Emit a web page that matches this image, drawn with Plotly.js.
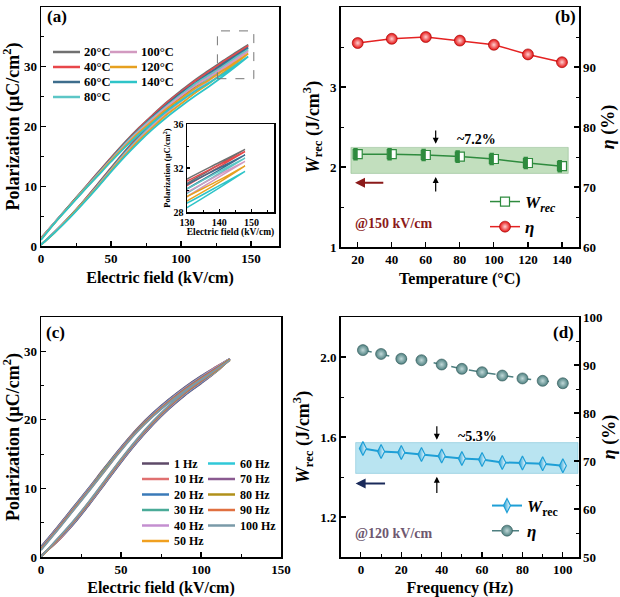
<!DOCTYPE html>
<html><head><meta charset="utf-8">
<script src="https://cdn.plot.ly/plotly-3.0.1.min.js"></script>
<style>html,body{margin:0;padding:0;background:#fff}#chart{width:620px;height:597px}</style>
</head><body><div id="chart"></div>
<script>
const SERIF = 'Liberation Serif';

// ---------- Panel (a): P-E loops vs temperature ----------
const E_a = [0, 10, 20, 30, 40, 50, 60, 70, 80, 90, 100, 110, 120, 130, 140, 148];
const tempLabels = ['20°C', '40°C', '60°C', '80°C', '100°C', '120°C', '140°C'];
const tempColors = ['#707070', '#e8474a', '#3d6d8c', '#5cc6c6', '#d29ac0', '#e6a020', '#2ec4c8'];
const P20_up  = [1.3, 4.0, 6.7, 9.4, 12.1, 14.8, 17.4, 19.8, 22.0, 24.1, 26.0, 27.8, 29.4, 31.0, 32.5, 33.7];
const P20_dn  = [0.2, 2.4, 4.8, 7.4, 10.2, 13.1, 15.9, 18.5, 20.9, 23.1, 25.1, 27.0, 28.8, 30.6, 32.3, 33.7];
const P40_up  = [1.3, 4.0, 6.7, 9.4, 12.1, 14.7, 17.3, 19.7, 21.9, 24.0, 25.8, 27.6, 29.2, 30.8, 32.3, 33.5];
const P40_dn  = [0.2, 2.4, 4.8, 7.4, 10.2, 13.0, 15.8, 18.4, 20.8, 23.0, 24.9, 26.8, 28.6, 30.4, 32.1, 33.5];
const P60_up  = [1.2, 4.0, 6.7, 9.3, 12.0, 14.6, 17.2, 19.5, 21.7, 23.7, 25.6, 27.3, 28.9, 30.5, 32.0, 33.2];
const P60_dn  = [0.2, 2.4, 4.8, 7.3, 10.1, 12.9, 15.7, 18.2, 20.6, 22.7, 24.7, 26.5, 28.3, 30.1, 31.8, 33.2];
const P80_up  = [1.2, 4.0, 6.6, 9.3, 11.9, 14.5, 17.1, 19.4, 21.5, 23.5, 25.3, 27.1, 28.6, 30.1, 31.7, 32.9];
const P80_dn  = [0.2, 2.4, 4.7, 7.3, 10.0, 12.8, 15.6, 18.1, 20.4, 22.5, 24.4, 26.3, 28.0, 29.7, 31.5, 32.9];
const P100_up = [1.2, 4.0, 6.6, 9.2, 11.8, 14.4, 16.9, 19.2, 21.3, 23.3, 25.1, 26.8, 28.3, 29.8, 31.4, 32.6];
const P100_dn = [0.2, 2.4, 4.7, 7.2, 9.9, 12.7, 15.4, 17.9, 20.2, 22.3, 24.2, 26.0, 27.7, 29.4, 31.2, 32.6];
const P120_up = [1.1, 3.9, 6.6, 9.2, 11.7, 14.3, 16.7, 19.0, 21.0, 23.0, 24.7, 26.4, 27.8, 29.4, 30.9, 32.2];
const P120_dn = [0.2, 2.3, 4.7, 7.2, 9.8, 12.6, 15.2, 17.7, 19.9, 22.0, 23.8, 25.6, 27.2, 29.0, 30.7, 32.2];
const P140_up = [1.0, 3.9, 6.5, 9.1, 11.6, 14.1, 16.5, 18.7, 20.7, 22.6, 24.3, 25.9, 27.3, 28.8, 30.4, 31.7];
const P140_dn = [0.2, 2.3, 4.6, 7.1, 9.7, 12.4, 15.0, 17.4, 19.6, 21.6, 23.4, 25.1, 26.7, 28.4, 30.2, 31.7];
const loopsA = [[P20_dn, P20_up], [P40_dn, P40_up], [P60_dn, P60_up], [P80_dn, P80_up],
                [P100_dn, P100_up], [P120_dn, P120_up], [P140_dn, P140_up]];

// ---------- Panel (b): Wrec and eta vs temperature ----------
const T = [20, 40, 60, 80, 100, 120, 140];
const Wrec_T = [2.16, 2.16, 2.15, 2.13, 2.10, 2.05, 2.01];
const eta_T = [94.0, 94.7, 95.0, 94.4, 93.7, 92.1, 90.8];

// ---------- Panel (c): P-E loops vs frequency ----------
const E_c = [0, 10, 20, 30, 40, 50, 60, 70, 80, 90, 100, 110, 118];
const freqLabels = ['1 Hz', '10 Hz', '20 Hz', '30 Hz', '40 Hz', '50 Hz', '60 Hz', '70 Hz', '80 Hz', '90 Hz', '100 Hz'];
const freqColors = ['#5e4a68', '#e07070', '#3a7ab8', '#4aab98', '#c48fd0', '#f0a020', '#30c8d8', '#8a5a90', '#b0901a', '#e07040', '#7a9aa8'];
const F1_up   = [1.5, 4.3, 7.2, 10.1, 13.1, 16.0, 18.7, 21.0, 23.0, 24.8, 26.4, 27.8, 28.9];
const F1_dn   = [0.2, 2.2, 4.7, 7.6, 10.7, 13.8, 16.7, 19.3, 21.6, 23.6, 25.3, 27.1, 28.9];
const F10_up  = [1.4, 4.2, 7.1, 10.0, 13.0, 15.9, 18.6, 20.9, 22.9, 24.7, 26.3, 27.8, 28.9];
const F10_dn  = [0.2, 2.2, 4.8, 7.7, 10.8, 13.9, 16.8, 19.4, 21.7, 23.7, 25.4, 27.1, 28.9];
const F20_up  = [1.4, 4.2, 7.1, 10.0, 12.9, 15.9, 18.5, 20.9, 22.9, 24.7, 26.3, 27.7, 28.9];
const F20_dn  = [0.1, 2.3, 4.8, 7.7, 10.8, 13.9, 16.8, 19.4, 21.7, 23.7, 25.4, 27.2, 28.9];
const F30_up  = [1.3, 4.1, 7.0, 9.9, 12.9, 15.8, 18.5, 20.8, 22.8, 24.6, 26.2, 27.7, 28.9];
const F30_dn  = [0.1, 2.3, 4.9, 7.8, 10.9, 14.0, 16.9, 19.5, 21.8, 23.8, 25.5, 27.2, 28.9];
const F40_up  = [1.3, 4.1, 7.0, 9.9, 12.8, 15.8, 18.4, 20.8, 22.8, 24.6, 26.2, 27.7, 28.9];
const F40_dn  = [0.1, 2.3, 4.9, 7.8, 10.9, 14.0, 16.9, 19.5, 21.8, 23.8, 25.5, 27.2, 28.9];
const F50_up  = [1.2, 4.0, 6.9, 9.8, 12.8, 15.7, 18.4, 20.7, 22.7, 24.5, 26.1, 27.6, 28.8];
const F50_dn  = [0.1, 2.4, 5.0, 7.9, 11.0, 14.1, 17.0, 19.6, 21.9, 23.9, 25.6, 27.2, 28.8];
const F60_up  = [1.2, 4.0, 6.9, 9.8, 12.8, 15.7, 18.4, 20.7, 22.7, 24.5, 26.1, 27.6, 28.8];
const F60_dn  = [0.1, 2.4, 5.0, 7.9, 11.0, 14.1, 17.0, 19.6, 21.9, 23.9, 25.6, 27.2, 28.8];
const F70_up  = [1.2, 4.0, 6.9, 9.8, 12.7, 15.7, 18.4, 20.7, 22.7, 24.5, 26.1, 27.6, 28.8];
const F70_dn  = [0.1, 2.4, 5.0, 7.9, 11.0, 14.1, 17.0, 19.6, 21.9, 23.9, 25.6, 27.3, 28.8];
const F80_up  = [1.1, 3.9, 6.8, 9.7, 12.7, 15.6, 18.3, 20.6, 22.6, 24.4, 26.0, 27.5, 28.8];
const F80_dn  = [0.0, 2.5, 5.1, 8.0, 11.1, 14.2, 17.1, 19.7, 22.0, 24.0, 25.7, 27.3, 28.8];
const F90_up  = [1.1, 3.9, 6.8, 9.7, 12.6, 15.6, 18.3, 20.6, 22.6, 24.4, 26.0, 27.5, 28.7];
const F90_dn  = [0.0, 2.5, 5.1, 8.0, 11.1, 14.2, 17.1, 19.7, 22.0, 24.0, 25.7, 27.3, 28.7];
const F100_up = [1.0, 3.8, 6.7, 9.6, 12.6, 15.5, 18.2, 20.5, 22.5, 24.3, 25.9, 27.4, 28.7];
const F100_dn = [0.0, 2.6, 5.2, 8.1, 11.2, 14.3, 17.2, 19.8, 22.1, 24.1, 25.8, 27.4, 28.7];
const loopsC = [[F1_dn, F1_up], [F10_dn, F10_up], [F20_dn, F20_up], [F30_dn, F30_up], [F40_dn, F40_up],
                [F50_dn, F50_up], [F60_dn, F60_up], [F70_dn, F70_up], [F80_dn, F80_up], [F90_dn, F90_up], [F100_dn, F100_up]];

// ---------- Panel (d): Wrec and eta vs frequency ----------
const F = [1, 10, 20, 30, 40, 50, 60, 70, 80, 90, 100];
const Wrec_F = [1.542, 1.527, 1.522, 1.512, 1.505, 1.493, 1.488, 1.473, 1.470, 1.466, 1.456];
const eta_F = [93.1, 92.3, 91.3, 91.0, 90.1, 89.2, 88.5, 87.8, 87.2, 86.7, 86.2];

// ---------- helpers ----------
function loopX(E) { return E.concat(E.slice().reverse()); }
function loopY(dn, up) { return dn.concat(up.slice().reverse()); }
const tickFont = {family: SERIF, size: 13, color: '#000', weight: 700};
function axis(extra) {
  return Object.assign({
    showgrid: false, zeroline: false, showline: true, linecolor: '#000', linewidth: 1.5,
    mirror: true, ticks: 'inside', ticklen: 5, tickwidth: 1.2, tickcolor: '#000',
    tickfont: tickFont, automargin: false, fixedrange: true
  }, extra);
}
function ttl(text, size, standoff) {
  return {text: text, font: {family: SERIF, size: size || 16, color: '#000', weight: 700}, standoff: standoff || 4};
}
const minorT = (d, len) => ({dtick: d, ticklen: len || 3, tickwidth: 1, ticks: 'inside', tickcolor: '#000'});
const W = 620, H = 597;
const px = v => v / W, py = v => 1 - v / H;

const traces = [];
loopsA.forEach((lp, i) => {
  traces.push({x: loopX(E_a), y: loopY(lp[0], lp[1]), xaxis: 'x', yaxis: 'y', mode: 'lines',
    line: {color: tempColors[i], width: 1.8, shape: 'spline', smoothing: 1}, showlegend: false, hoverinfo: 'skip'});
});
loopsA.forEach((lp, i) => {
  traces.push({x: loopX(E_a), y: loopY(lp[0], lp[1]), xaxis: 'x5', yaxis: 'y7', mode: 'lines',
    line: {color: tempColors[i], width: 1.5, shape: 'spline', smoothing: 1}, showlegend: false, hoverinfo: 'skip'});
});
loopsC.forEach((lp, i) => {
  traces.push({x: loopX(E_c), y: loopY(lp[0], lp[1]), xaxis: 'x3', yaxis: 'y3', mode: 'lines',
    line: {color: freqColors[i], width: 1.8, shape: 'spline', smoothing: 1}, showlegend: false, hoverinfo: 'skip'});
});
// (b) Wrec: white square + left half filled (thick vertical bar marker shifted left)
const greenW = '#2e8b3e';
traces.push({x: T, y: Wrec_T, xaxis: 'x2', yaxis: 'y2', mode: 'lines+markers', name: '<i>W</i><sub><i>rec</i></sub>',
  legend: 'legend2', line: {color: greenW, width: 1.5},
  marker: {symbol: 'square', size: 9, color: '#fff', line: {color: greenW, width: 1.2}}});
traces.push({x: T, y: Wrec_T, xaxis: 'x2', yaxis: 'y2', mode: 'markers', showlegend: false, hoverinfo: 'skip',
  marker: {symbol: 'line-ew', size: 9, angle: 90, standoff: 2.2, color: greenW, line: {color: greenW, width: 4.4}}});
traces.push({x: T, y: eta_T, xaxis: 'x2', yaxis: 'y5', mode: 'lines+markers', name: '<b><i>η</i></b>',
  legend: 'legend2', line: {color: '#e52222', width: 1.5},
  marker: {symbol: 'circle', size: 11, color: '#e41010', gradient: {type: 'radial', color: '#ffd0d0'}, line: {color: '#a00000', width: 0.6}}});
// (d)
const blueW = '#1e9fd6';
traces.push({x: F, y: Wrec_F, xaxis: 'x4', yaxis: 'y4', mode: 'lines+markers', name: '<i>W</i><sub>rec</sub>',
  legend: 'legend4', line: {color: blueW, width: 2},
  marker: {symbol: 'diamond-tall', size: 10, color: blueW, gradient: {type: 'horizontal', color: '#ffffff'},
    line: {color: blueW, width: 1.2}}});
traces.push({x: F, y: eta_F, xaxis: 'x4', yaxis: 'y6', mode: 'lines+markers', name: '<i>η</i>',
  legend: 'legend4', line: {color: '#4e7f80', width: 1.5, dash: 'dash'},
  marker: {symbol: 'circle', size: 11, color: '#4e8080', gradient: {type: 'radial', color: '#c0d8d8'}, line: {color: '#2f5555', width: 0.6}}});

const shapes = [];
const annotations = [];
tempLabels.forEach((lab, i) => {
  const col = i < 4 ? 0 : 1, row = i < 4 ? i : i - 4;
  const y = 52 + row * 15;
  const x0 = col === 0 ? 53 : 110;
  shapes.push({type: 'line', xref: 'paper', yref: 'paper', x0: px(x0), x1: px(x0 + 27), y0: py(y), y1: py(y),
    line: {color: tempColors[i], width: 2.5}});
  annotations.push({xref: 'paper', yref: 'paper', x: px(x0 + 29), y: py(y), xanchor: 'left', yanchor: 'middle',
    text: lab, showarrow: false, font: {family: SERIF, size: 12.5, color: '#000', weight: 700}});
});
freqLabels.forEach((lab, i) => {
  const col = i < 6 ? 0 : 1, row = i < 6 ? i : i - 6;
  const y = 463.5 + row * 15.5;
  const x0 = col === 0 ? 142 : 208;
  shapes.push({type: 'line', xref: 'paper', yref: 'paper', x0: px(x0), x1: px(x0 + 27), y0: py(y), y1: py(y),
    line: {color: freqColors[i], width: 2.5}});
  annotations.push({xref: 'paper', yref: 'paper', x: px(x0 + 30), y: py(y), xanchor: 'left', yanchor: 'middle',
    text: lab, showarrow: false, font: {family: SERIF, size: 12, color: '#000', weight: 700}});
});
shapes.push({type: 'rect', xref: 'x', yref: 'y', x0: 126, x1: 152, y0: 28, y1: 36,
  line: {color: '#777', width: 1, dash: 'dash'}});
shapes.push({type: 'rect', xref: 'x2', yref: 'y2', x0: 16, x1: 143.7, y0: 1.92, y1: 2.245, layer: 'below',
  fillcolor: 'rgba(120,185,110,0.45)', line: {color: 'rgba(100,160,100,0.6)', width: 0.6}});
shapes.push({type: 'rect', xref: 'x4', yref: 'y4', x0: -2.6, x1: 107.5, y0: 1.418, y1: 1.572, layer: 'below',
  fillcolor: 'rgba(100,195,225,0.45)', line: {color: 'rgba(80,170,200,0.6)', width: 0.6}});

[['(a)', 57, 16], ['(b)', 565, 16], ['(c)', 55, 332], ['(d)', 563, 332]].forEach(p => {
  annotations.push({xref: 'paper', yref: 'paper', x: px(p[1]), y: py(p[2]), xanchor: 'center', yanchor: 'middle',
    text: p[0], showarrow: false, font: {family: SERIF, size: 17, color: '#000', weight: 700}});
});
function arrow(xr, yr, x, y, ax, ay, color, w, size) {
  return {xref: xr, yref: yr, axref: xr, ayref: yr, x: x, y: y, ax: ax, ay: ay, text: '', showarrow: true,
    arrowhead: 2, arrowsize: size || 1, arrowwidth: w || 1.2, arrowcolor: color || '#000'};
}
annotations.push(arrow('x2', 'y2', 65.8, 2.29, 65.8, 2.475));
annotations.push(arrow('x2', 'y2', 65.8, 1.875, 65.8, 1.675));
annotations.push(arrow('x2', 'y2', 18.4, 1.804, 35.9, 1.804, '#8b1a1a', 2, 1));
annotations.push({xref: 'x2', yref: 'y2', x: 89.6, y: 2.34, text: '~7.2%', showarrow: false,
  font: {family: SERIF, size: 14, color: '#000', weight: 700}});
annotations.push({xref: 'x2', yref: 'y2', x: 41.2, y: 1.30, text: '@150 kV/cm', showarrow: false,
  font: {family: SERIF, size: 14, color: '#8b1a1a', weight: 700}});
annotations.push(arrow('x4', 'y4', 37.6, 1.586, 37.6, 1.661));
annotations.push(arrow('x4', 'y4', 37.6, 1.401, 37.6, 1.313));
annotations.push(arrow('x4', 'y4', -2.6, 1.368, 12.7, 1.368, '#1a2a5a', 2, 1));
annotations.push({xref: 'x4', yref: 'y4', x: 57.8, y: 1.603, text: '~5.3%', showarrow: false,
  font: {family: SERIF, size: 14, color: '#000', weight: 700}});
annotations.push({xref: 'x4', yref: 'y4', x: 16.5, y: 1.116, text: '@120 kV/cm', showarrow: false,
  font: {family: SERIF, size: 14, color: '#6e5870', weight: 700}});

const polTitle = 'Polarization (μC/cm<sup>2</sup>)';
const efTitle = 'Electric field (kV/cm)';
const wTitle = '<i>W</i><sub>rec</sub> (J/cm<sup>3</sup>)';
const etaTitle = '<i>η</i> (%)';

const layout = {
  width: W, height: H, margin: {l: 0, r: 0, t: 0, b: 0},
  paper_bgcolor: '#fff', plot_bgcolor: '#fff',
  font: {family: SERIF, color: '#000'},
  showlegend: true,
  xaxis: axis({domain: [px(41), px(279)], range: [0, 170], dtick: 50, tick0: 0, minor: minorT(25),
    title: ttl(efTitle, 16, 6), anchor: 'y'}),
  yaxis: axis({domain: [py(246), py(7)], range: [0, 40], dtick: 10, minor: minorT(5),
    title: ttl(polTitle, 18, 6), anchor: 'x'}),
  xaxis2: axis({domain: [px(340.7), px(579)], range: [10, 150], dtick: 20, tick0: 0,
    title: ttl('Temperature (°C)', 16, 6), anchor: 'y2'}),
  yaxis2: axis({domain: [py(247), py(7)], range: [1, 4], dtick: 1, mirror: false, minor: minorT(0.5),
    title: ttl(wTitle, 18, 6), anchor: 'x2'}),
  yaxis5: axis({domain: [py(247), py(7)], range: [60, 100], dtick: 10, overlaying: 'y2', side: 'right', mirror: false,
    minor: minorT(5), title: ttl(etaTitle, 18, 6), anchor: 'x2'}),
  xaxis3: axis({domain: [px(41), px(281)], range: [0, 150], dtick: 50, tick0: 0, minor: minorT(25),
    title: ttl(efTitle, 16, 6), anchor: 'y3'}),
  yaxis3: axis({domain: [py(557), py(317)], range: [0, 35], dtick: 10, minor: minorT(5),
    title: ttl(polTitle, 18, 6), anchor: 'x3'}),
  xaxis4: axis({domain: [px(340.7), px(579)], range: [-10, 108], dtick: 20, tick0: 0, minor: minorT(10),
    title: ttl('Frequency (Hz)', 16, 6), anchor: 'y4'}),
  yaxis4: axis({domain: [py(557), py(317)], range: [1.0, 2.2], dtick: 0.4, tick0: 1.2, tickformat: '.1f', mirror: false,
    minor: minorT(0.2), title: ttl(wTitle, 18, 6), anchor: 'x4'}),
  yaxis6: axis({domain: [py(557), py(317)], range: [50, 100], dtick: 10, overlaying: 'y4', side: 'right', mirror: false,
    minor: minorT(5), title: ttl(etaTitle, 18, 6), anchor: 'x4'}),
  xaxis5: axis({domain: [px(187), px(274)], range: [130, 157], dtick: 10, tick0: 130, ticklen: 3,
    minor: minorT(5, 2), tickfont: {family: SERIF, size: 10, color: '#000', weight: 700},
    title: ttl(efTitle, 9.5, 1), anchor: 'y7'}),
  yaxis7: axis({domain: [py(212), py(124)], range: [28, 36], dtick: 4, tick0: 28, ticklen: 3,
    minor: minorT(2, 2), tickfont: {family: SERIF, size: 10, color: '#000', weight: 700},
    title: ttl(polTitle, 8.5, 1), anchor: 'x5'}),
  legend2: {x: px(485), y: py(184), xanchor: 'left', yanchor: 'top', bgcolor: 'rgba(0,0,0,0)',
    font: {family: SERIF, size: 17, color: '#000', weight: 700}, itemwidth: 30},
  legend4: {x: px(487), y: py(488), xanchor: 'left', yanchor: 'top', bgcolor: 'rgba(0,0,0,0)',
    font: {family: SERIF, size: 17, color: '#000', weight: 700}, itemwidth: 30},
  shapes: shapes,
  annotations: annotations
};

Plotly.newPlot('chart', traces, layout, {staticPlot: true, displayModeBar: false});
</script></body></html>
